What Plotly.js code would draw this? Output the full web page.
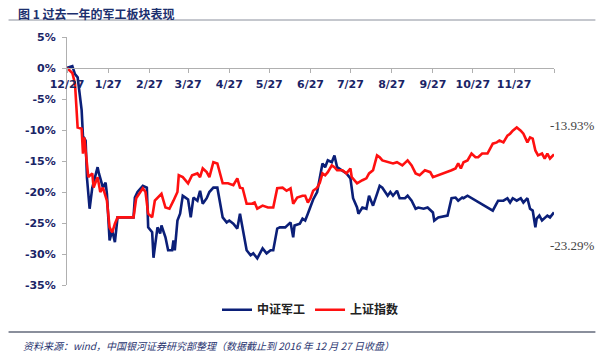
<!DOCTYPE html>
<html>
<head>
<meta charset="utf-8">
<script src="https://cdn.plot.ly/plotly-3.0.1.min.js"></script>
<style>
html,body{margin:0;padding:0;background:#fff;}
#chart{width:600px;height:355px;}
</style>
</head>
<body>
<div id="chart"></div>
<script>
// ---- data (cumulative return, %) ----
const seriesNames = ["中证军工", "上证指数"];

const defenseDates = ["2015-12-27","2015-12-31","2016-01-02","2016-01-04","2016-01-07","2016-01-08","2016-01-10","2016-01-11","2016-01-13","2016-01-15","2016-01-19","2016-01-20","2016-01-23","2016-01-25","2016-01-26","2016-01-28","2016-01-30","2016-02-01","2016-02-03","2016-02-15","2016-02-16","2016-02-18","2016-02-22","2016-02-25","2016-02-26","2016-02-29","2016-03-01","2016-03-04","2016-03-06","2016-03-07","2016-03-10","2016-03-12","2016-03-15","2016-03-16","2016-03-17","2016-03-19","2016-03-21","2016-03-23","2016-03-25","2016-03-27","2016-03-29","2016-03-31","2016-04-03","2016-04-05","2016-04-07","2016-04-10","2016-04-12","2016-04-15","2016-04-18","2016-04-20","2016-04-22","2016-04-25","2016-04-27","2016-04-30","2016-05-03","2016-05-05","2016-05-07","2016-05-10","2016-05-13","2016-05-15","2016-05-18","2016-05-20","2016-05-22","2016-05-25","2016-05-28","2016-05-30","2016-06-02","2016-06-04","2016-06-08","2016-06-12","2016-06-14","2016-06-15","2016-06-19","2016-06-21","2016-06-23","2016-06-25","2016-06-27","2016-06-29","2016-07-02","2016-07-04","2016-07-06","2016-07-08","2016-07-10","2016-07-13","2016-07-15","2016-07-17","2016-07-21","2016-07-24","2016-07-27","2016-07-29","2016-08-01","2016-08-02","2016-08-05","2016-08-08","2016-08-10","2016-08-13","2016-08-16","2016-08-18","2016-08-20","2016-08-24","2016-08-26","2016-08-28","2016-08-31","2016-09-02","2016-09-06","2016-09-08","2016-09-11","2016-09-14","2016-09-16","2016-09-20","2016-09-23","2016-09-27","2016-09-28","2016-10-01","2016-10-08","2016-10-11","2016-10-14","2016-10-16","2016-10-19","2016-10-20","2016-10-23","2016-10-26","2016-10-29","2016-11-01","2016-11-05","2016-11-07","2016-11-11","2016-11-13","2016-11-15","2016-11-19","2016-11-22","2016-11-24","2016-11-26","2016-11-29","2016-12-02","2016-12-04","2016-12-07","2016-12-09","2016-12-11","2016-12-13","2016-12-14","2016-12-16","2016-12-18","2016-12-22","2016-12-24","2016-12-27"];
const defenseValues = [0,0.3,-1.0,-1.5,-6.8,-11.0,-11.7,-17.7,-22.7,-19.3,-16.0,-17.0,-19.3,-18.5,-20.3,-27.8,-26.2,-28.1,-24.1,-24.1,-20.9,-20.0,-19.0,-19.3,-25.7,-26.5,-30.6,-25.7,-26.7,-25.4,-27.3,-29.4,-29.4,-27.8,-29.4,-24.6,-23.5,-20.6,-20.9,-21.2,-24.1,-20.9,-21.4,-19.8,-21.9,-21.0,-20.0,-19.3,-19.3,-21.4,-24.1,-24.9,-24.6,-25.1,-25.9,-23.5,-25.7,-29.4,-30.2,-29.9,-30.7,-29.8,-29.1,-29.9,-29.4,-29.4,-25.9,-25.7,-25.7,-24.9,-27.3,-25.4,-25.1,-24.3,-24.6,-23.5,-22.2,-21.2,-20.0,-17.8,-15.4,-16.0,-14.9,-15.2,-14.1,-16.0,-16.5,-17.0,-17.8,-21.0,-22.5,-23.5,-22.5,-22.7,-20.6,-22.2,-20.3,-19.0,-19.3,-20.6,-20.0,-20.6,-19.8,-21.0,-21.0,-20.6,-21.4,-22.7,-22.5,-22.7,-22.5,-23.3,-24.6,-24.1,-23.8,-21.0,-20.9,-21.4,-20.9,-21.0,-20.6,-21.0,-21.4,-21.7,-22.2,-22.5,-23.0,-22.2,-21.4,-21.4,-21.0,-21.7,-21.0,-21.4,-21.0,-21.7,-21.0,-22.7,-23.0,-25.7,-24.3,-23.8,-24.6,-23.8,-24.1,-23.29];

const shanghaiDates = ["2015-12-27","2015-12-31","2016-01-02","2016-01-04","2016-01-07","2016-01-08","2016-01-09","2016-01-12","2016-01-15","2016-01-16","2016-01-19","2016-01-21","2016-01-23","2016-01-26","2016-01-28","2016-01-30","2016-02-01","2016-02-03","2016-02-15","2016-02-17","2016-02-22","2016-02-24","2016-02-26","2016-02-29","2016-03-02","2016-03-04","2016-03-07","2016-03-10","2016-03-13","2016-03-16","2016-03-19","2016-03-20","2016-03-23","2016-03-27","2016-03-30","2016-04-03","2016-04-05","2016-04-07","2016-04-10","2016-04-12","2016-04-15","2016-04-18","2016-04-20","2016-04-22","2016-04-26","2016-04-30","2016-05-03","2016-05-05","2016-05-07","2016-05-10","2016-05-14","2016-05-16","2016-05-18","2016-05-22","2016-05-26","2016-05-30","2016-06-02","2016-06-06","2016-06-09","2016-06-12","2016-06-14","2016-06-17","2016-06-21","2016-06-23","2016-06-25","2016-06-27","2016-06-29","2016-07-02","2016-07-04","2016-07-06","2016-07-08","2016-07-10","2016-07-13","2016-07-15","2016-07-17","2016-07-21","2016-07-24","2016-07-27","2016-07-28","2016-07-30","2016-08-01","2016-08-05","2016-08-08","2016-08-10","2016-08-13","2016-08-16","2016-08-18","2016-08-20","2016-08-25","2016-08-28","2016-08-31","2016-09-04","2016-09-08","2016-09-11","2016-09-14","2016-09-17","2016-09-21","2016-09-25","2016-09-27","2016-10-01","2016-10-04","2016-10-08","2016-10-11","2016-10-14","2016-10-16","2016-10-18","2016-10-20","2016-10-23","2016-10-26","2016-10-29","2016-10-31","2016-11-03","2016-11-07","2016-11-09","2016-11-11","2016-11-14","2016-11-16","2016-11-19","2016-11-22","2016-11-24","2016-11-26","2016-11-29","2016-12-02","2016-12-04","2016-12-07","2016-12-09","2016-12-11","2016-12-13","2016-12-15","2016-12-18","2016-12-20","2016-12-22","2016-12-24","2016-12-27"];
const shanghaiValues = [0,-0.8,-2.5,-9.6,-9.8,-13.8,-11.2,-17.6,-17.0,-19.3,-17.6,-20.0,-19.3,-21.4,-25.7,-26.5,-25.1,-24.1,-24.1,-21.0,-19.4,-20.0,-23.5,-24.1,-21.4,-20.9,-20.3,-22.5,-22.7,-21.4,-20.0,-17.3,-17.6,-18.6,-17.3,-17.0,-17.6,-16.2,-16.8,-17.6,-15.2,-15.4,-16.8,-18.6,-18.6,-18.9,-17.8,-19.3,-19.4,-21.9,-21.9,-21.7,-22.7,-22.2,-22.5,-22.5,-19.4,-19.3,-19.8,-19.4,-21.9,-20.9,-20.6,-20.6,-21.7,-21.0,-19.8,-19.3,-18.5,-17.0,-17.3,-16.8,-15.7,-16.0,-16.5,-16.5,-17.0,-16.2,-17.6,-18.1,-18.6,-18.1,-17.8,-17.0,-16.5,-14.1,-14.4,-14.9,-15.2,-15.4,-15.2,-15.7,-14.9,-15.7,-17.0,-17.3,-16.5,-16.8,-17.6,-17.3,-17.0,-16.8,-16.5,-16.2,-15.4,-16.2,-15.2,-14.9,-13.8,-14.4,-14.4,-13.8,-13.8,-13.0,-12.2,-12.0,-11.7,-12.0,-10.9,-10.6,-10.1,-9.6,-10.1,-10.6,-12.0,-11.2,-11.4,-13.3,-14.1,-13.8,-14.6,-13.8,-14.6,-13.93];

const xTickDates = ["2015-12-27","2016-01-27","2016-02-27","2016-03-27","2016-04-27","2016-05-27","2016-06-27","2016-07-27","2016-08-27","2016-09-27","2016-10-27","2016-11-27","2016-12-27"];
const xTickLabels = ["12/27","1/27","2/27","3/27","4/27","5/27","6/27","7/27","8/27","9/27","10/27","11/27",""];
const yTickValues = [5,0,-5,-10,-15,-20,-25,-30,-35];
const yTickLabels = ["5%","0%","-5%","-10%","-15%","-20%","-25%","-30%","-35%"];
const endLabels = ["-13.93%","-23.29%"];

const navy = "#0b1f78";
const red = "#ff1010";
const tickFont = {family:"DejaVu Sans", size:11, color:"#1a2466", weight:"bold"};

const traces = [
  {x: defenseDates, y: defenseValues, name: seriesNames[0], type:"scatter", mode:"lines",
   line:{color:navy, width:2.6}},
  {x: shanghaiDates, y: shanghaiValues, name: seriesNames[1], type:"scatter", mode:"lines",
   line:{color:red, width:2.6}}
];

const lastS = shanghaiValues.length-1, lastD = defenseValues.length-1;

const layout = {
  width:600, height:355,
  margin:{l:67, r:46, t:37, b:70},
  paper_bgcolor:"#fff", plot_bgcolor:"#fff",
  showlegend:true,
  legend:{orientation:"h", x:0.5, xanchor:"center", y:-0.1, yanchor:"middle",
          font:{family:"Noto Sans CJK SC", size:12, color:"#222", weight:"bold"},
          itemwidth:30, tracegroupgap:0},
  xaxis:{type:"date", range:[xTickDates[0], xTickDates[xTickDates.length-1]],
         tickmode:"array", tickvals:xTickDates, ticktext:xTickLabels,
         showgrid:false, zeroline:false, showline:true, linecolor:"#b0b0b0", linewidth:1,
         ticks:"outside", ticklen:4, tickcolor:"#b0b0b0",
         anchor:"free", position:0.875, tickfont:tickFont, ticklabelstandoff:2},
  yaxis:{range:[-35,5], tickmode:"array", tickvals:yTickValues, ticktext:yTickLabels,
         showgrid:false, zeroline:false, showline:true, linecolor:"#b0b0b0", linewidth:1,
         ticks:"outside", ticklen:4, tickcolor:"#b0b0b0", tickfont:tickFont, ticklabelstandoff:4},
  annotations:[
    {xref:"paper", yref:"y", x:1.0, xshift:-6, y:shanghaiValues[lastS]+4.6, text:endLabels[0], showarrow:false,
     xanchor:"left", font:{family:"Liberation Serif", size:13, color:"#444"}},
    {xref:"paper", yref:"y", x:1.0, xshift:-6, y:defenseValues[lastD]-5.3, text:endLabels[1], showarrow:false,
     xanchor:"left", font:{family:"Liberation Serif", size:13, color:"#444"}},
    {xref:"paper", yref:"paper", x:-0.105, y:1.0, yshift:24, text:"图 1 过去一年的军工板块表现", showarrow:false,
     xanchor:"left", yanchor:"middle", font:{family:"Noto Sans CJK SC", size:12, color:"#1c2f6e", weight:"bold"}},
    {xref:"paper", yref:"paper", x:-0.095, y:0, yshift:-60, text:"资料来源：wind，中国银河证券研究部整理（数据截止到 2016 年 12 月 27 日收盘）", showarrow:false,
     xanchor:"left", yanchor:"middle", font:{family:"Noto Sans CJK SC", size:10, color:"#2a3570", style:"italic"}}
  ],
  shapes:[
    {type:"line", xref:"paper", yref:"paper", x0:-0.12, x1:1.085, y0:1, y1:1,
     line:{color:"#8a8f9c", width:1}},
    {type:"line", xref:"paper", yref:"paper", x0:-0.12, x1:1.085, y0:0, y1:0,
     line:{color:"#8a8f9c", width:2}}
  ]
};
// place the decorative rules in pixel terms relative to plot area
const plotH = 355-37-70;
layout.shapes[0].y0 = layout.shapes[0].y1 = 1 + 17/plotH;
layout.shapes[1].y0 = layout.shapes[1].y1 = -47/plotH;

Plotly.newPlot("chart", traces, layout, {displayModeBar:false, staticPlot:true});
</script>
</body>
</html>
